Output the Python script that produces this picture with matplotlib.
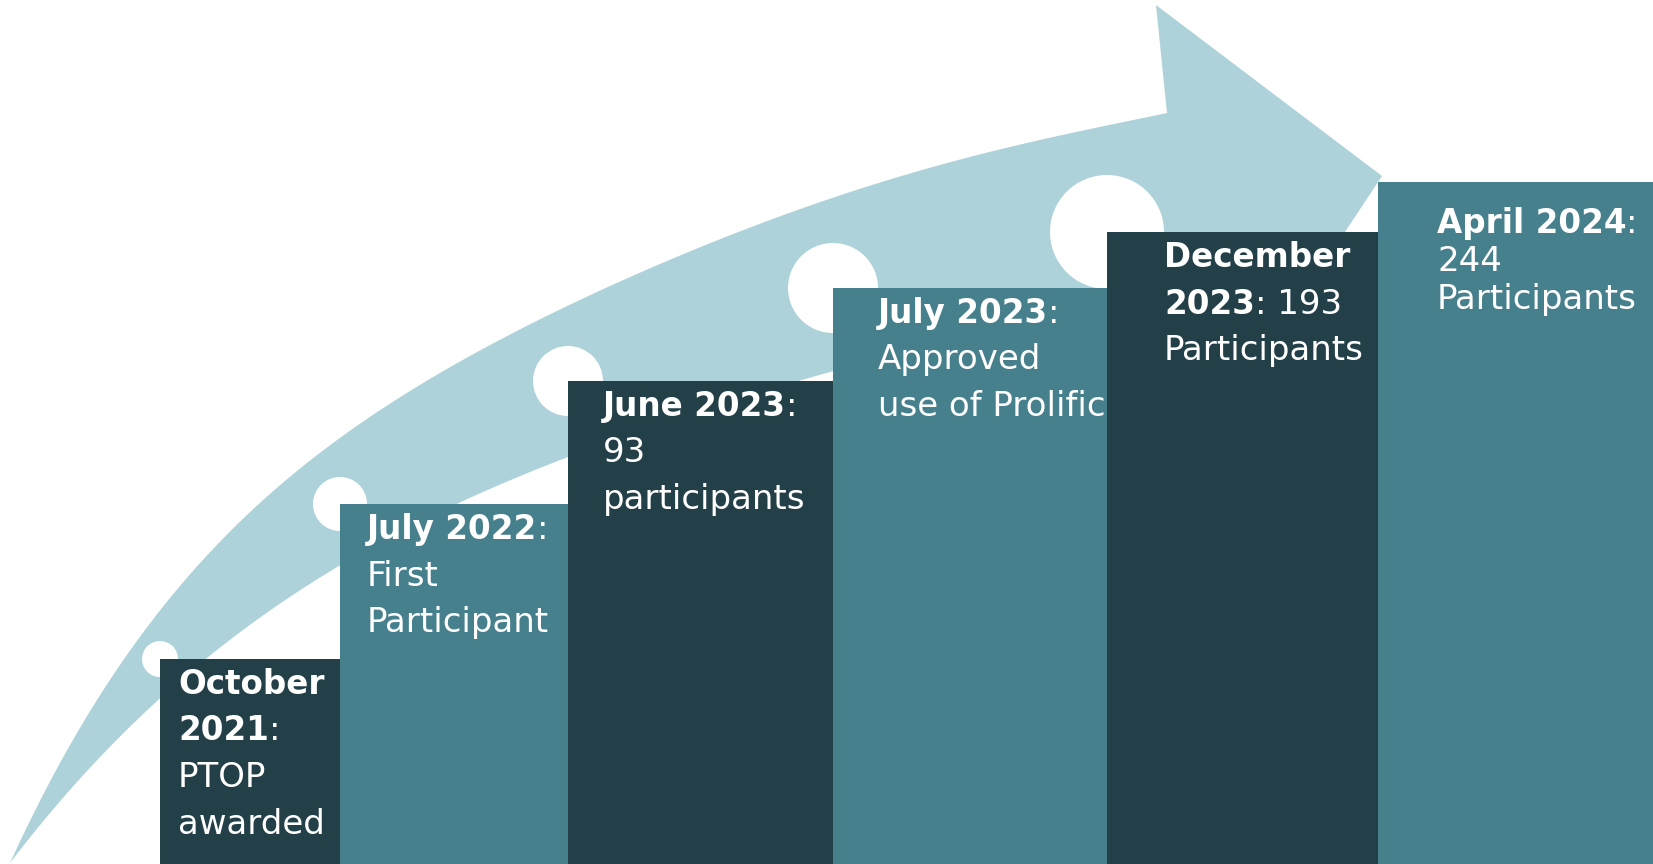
import numpy as np
import matplotlib
matplotlib.use("Agg")
import matplotlib.pyplot as plt
from matplotlib.patches import Polygon, Circle

# staircase of project milestones
step_heights = [205, 360, 483, 576, 632, 682]
labels = [
    "**October**\n**2021**:\nPTOP\nawarded",
    "**July 2022**:\nFirst\nParticipant",
    "**June 2023**:\n93\nparticipants",
    "**July 2023**:\nApproved\nuse of Prolific",
    "**December**\n**2023**: 193\nParticipants",
    "**April 2024**:\n244\nParticipants",
]

W, H = 1653, 864
edges = [160, 340, 568, 833, 1107, 1378, 1653]
dot_r = [18, 27, 35, 45, 57]
text_pad = [18, 27, 35, 45, 57, 59]
first_drop = [35, 35, 35, 35, 35, 51]
line_gap = [46.5, 46.5, 46.5, 46.5, 46.5, 38]

DARK = "#233f47"
TEAL = "#47808d"
LIGHT = "#aed2d9"
FS_BOLD = 23.5
FS_REG = 24.5


def edge_curve(pts, deg, n=240):
    # smooth polynomial edge y(x), pinned to its end points
    pts = np.asarray(pts, float)
    w = np.ones(len(pts))
    w[[0, -1]] = 50
    coef = np.polyfit(pts[:, 0], pts[:, 1], deg, w=w)
    xs = np.linspace(pts[0, 0], pts[-1, 0], n)
    return np.column_stack([xs, np.polyval(coef, xs)])


fig = plt.figure(figsize=(W / 100, H / 100), dpi=100)
ax = fig.add_axes([0, 0, 1, 1])
ax.set_xlim(0, W)
ax.set_ylim(0, H)
ax.axis("off")

# big curved arrow behind the steps (pixel coords, y down)
upper = [(10, 863), (60, 767), (110, 683), (143, 630), (167, 597), (233, 530),
         (300, 470), (400, 397), (450, 367), (500, 337), (550, 317), (650, 270),
         (750, 227), (800, 207), (850, 192), (900, 177), (1000, 150),
         (1100, 127), (1167, 113)]
lower = [(10, 863), (100, 752), (213, 655), (233, 638), (287, 600), (340, 565),
         (459, 501), (500, 487), (566, 458), (700, 410), (850, 365),
         (1000, 330), (1150, 303), (1240, 292)]
head = [(1156, 5), (1382, 176), (1300, 300)]
outline = np.vstack([edge_curve(upper, 5), head, edge_curve(lower, 4)[::-1]])
outline[:, 1] = H - outline[:, 1]
ax.add_patch(Polygon(outline, closed=True, fc=LIGHT, ec="none", zorder=1))

lefts = edges[:-1]
widths = np.diff(edges)
colors = [DARK if i % 2 == 0 else TEAL for i in range(len(step_heights))]
bars = ax.bar(lefts, step_heights, width=widths, align="edge",
              color=colors, linewidth=0, zorder=3)

for x, h, r in zip(lefts, step_heights, dot_r):
    ax.add_patch(Circle((x, h), r, fc="white", ec="none", zorder=2))

fig.canvas.draw()
renderer = fig.canvas.get_renderer()

for i, (lab, bar) in enumerate(zip(labels, bars.patches)):
    x0 = lefts[i] + text_pad[i]
    y = step_heights[i] - first_drop[i]
    for line in lab.split("\n"):
        x = x0
        for k, seg in enumerate(line.split("**")):
            if not seg:
                continue
            bold = k % 2 == 1
            t = ax.text(x, y, seg, color="white",
                        fontsize=FS_BOLD if bold else FS_REG,
                        fontweight="bold" if bold else "normal",
                        ha="left", va="baseline", zorder=4, clip_on=True)
            t.set_clip_path(bar)
            x += t.get_window_extent(renderer).width
        y -= line_gap[i]

fig.savefig("out.png", dpi=100)
